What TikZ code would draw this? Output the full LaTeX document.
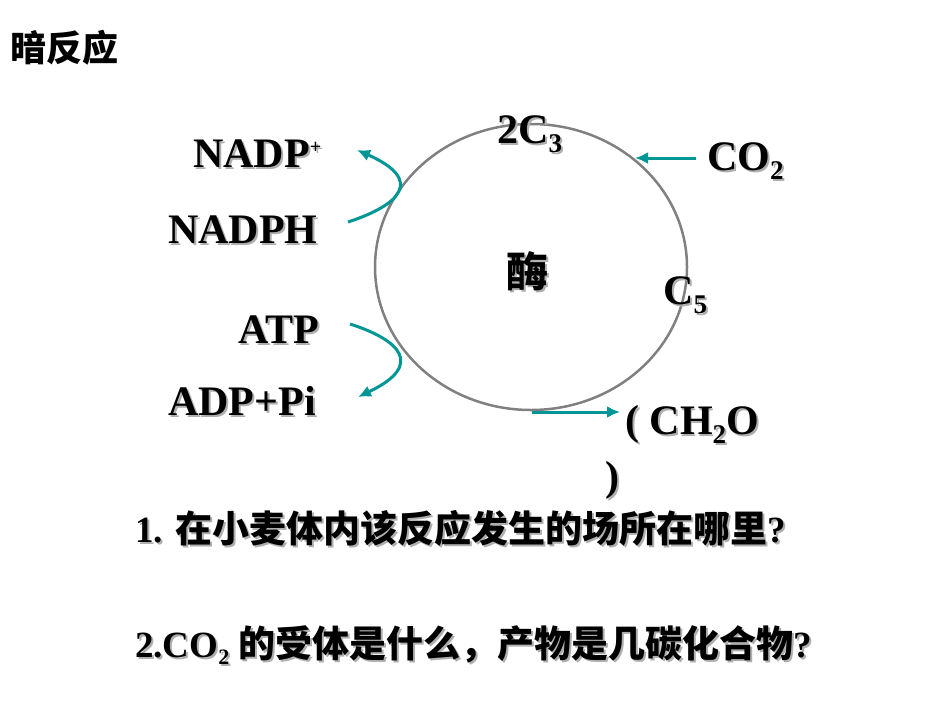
\documentclass[tikz,border=0pt]{standalone}
\usepackage{fontspec}
\usetikzlibrary{arrows.meta}
\setmainfont{Liberation Serif}
\newfontfamily\cjk{Noto Sans CJK SC}
\definecolor{arrowteal}{RGB}{0,150,150}
\definecolor{ringgray}{RGB}{128,128,128}
\definecolor{shadegray}{RGB}{175,175,175}
\newcommand\shadowed[1]{\makebox[0pt][l]{\hspace{2pt}\raisebox{-2pt}{\textcolor{shadegray}{#1}}}#1}
\newcommand\lowidx[1]{\raisebox{-9pt}{\fontsize{27}{27}\selectfont #1}}

\begin{document}
\begin{tikzpicture}[x=1pt,y=-1pt,>={Latex[length=13pt,width=12pt]},
    chem/.style={inner sep=0pt,anchor=base west,font=\fontsize{42}{42}\selectfont\bfseries},
    quest/.style={inner sep=0pt,anchor=base west,font=\fontsize{36}{36}\selectfont\bfseries},
    flow/.style={->,draw=arrowteal,line width=3pt}]

        \useasboundingbox (0,0) rectangle (950,713);

        % Title
        \node[quest,font=\cjk\bfseries\fontsize{36}{36}\selectfont] (title) at (10,61) {暗反应};

        % Draw cycle
        \draw[ringgray,line width=2.5pt] (531,267) ellipse (156 and 143);
        \node[inner sep=0pt,font=\cjk\bfseries\fontsize{42}{42}\selectfont] (enzyme) at (527,272) {\shadowed{酶}};

        % Labels
        \node[chem] (nadpplus) at (193,167) {\shadowed{NADP\raisebox{14pt}{\fontsize{20}{20}\selectfont +}}};
        \node[chem] (nadph) at (168,243) {\shadowed{NADPH}};
        \node[chem] (atp) at (238,343) {\shadowed{ATP}};
        \node[chem] (adp) at (168,415) {\shadowed{ADP+Pi}};
        \node[chem] (ctri) at (497,143) {\shadowed{2C\lowidx{3}}};
        \node[chem] (co2) at (707,170) {\shadowed{CO\lowidx{2}}};
        \node[chem] (cpent) at (663,304) {\shadowed{C\lowidx{5}}};
        \node[chem,align=left] (sugar) at (625,490) {\shadowed{( CH\lowidx{2}O}\\[14pt]\hspace*{-20pt}\shadowed{)}};

        % Arrow ends
        \coordinate (nadphout) at (348,222);
        \coordinate (nadpin) at (357,150);
        \coordinate (atpout) at (350,324);
        \coordinate (adpin) at (358,397);
        \coordinate (co2out) at (696,158);
        \coordinate (co2in) at (635,158);
        \coordinate (sugarout) at (532,412);
        \coordinate (sugarin) at (620,412);

        % Draw arrows
        \draw[flow] (nadphout) .. controls (400,205) and (425,180) .. (nadpin);
        \draw[flow] (atpout) .. controls (400,340) and (425,365) .. (adpin);
        \draw[flow] (co2out) -- (co2in);
        \draw[flow] (sugarout) -- (sugarin);

        % Questions
        \node[quest,font=\fontsize{37}{37}\selectfont\bfseries] (q1) at (135,542) {\shadowed{1. {\cjk 在小麦体内该反应发生的场所在哪里}?}};
        \node[quest,font=\fontsize{37}{37}\selectfont\bfseries] (q2) at (135,657) {\shadowed{2.CO\raisebox{-7pt}{\fontsize{22}{22}\selectfont 2} {\cjk 的受体是什么，产物是几碳化合物}?}};

\end{tikzpicture}
\end{document}
